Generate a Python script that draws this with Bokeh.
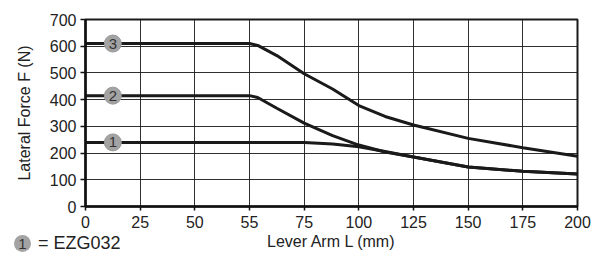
import numpy as np
from bokeh.plotting import figure
from bokeh.models import FixedTicker, ColumnDataSource, Div
from bokeh.layouts import column
from bokeh.core.properties import value
from bokeh.embed import file_html
from bokeh.resources import INLINE

# tick values of the (evenly spaced) lever-arm axis
x_ticks = [0, 25, 50, 55, 75, 100, 125, 150, 175, 200]
y_ticks = [0, 100, 200, 300, 400, 500, 600, 700]

# curve 3
x3 = [0, 55, 58, 65, 75, 88, 100, 112, 125, 150, 175, 200]
f3 = [610, 610, 603, 565, 497, 440, 378, 337, 305, 255, 220, 188]
# curve 2
x2 = [0, 55, 58, 65, 75, 88, 100, 112, 125, 150, 175, 200]
f2 = [415, 415, 408, 368, 312, 265, 230, 204, 185, 148, 132, 122]
# curve 1
x1 = [0, 75, 88, 100, 112, 125, 150, 175, 200]
f1 = [240, 240, 234, 224, 206, 185, 148, 132, 122]

curve_ids = ["1", "2", "3"]
curve_levels = [240, 415, 610]
marker_x = 12.5

legend_id = "1"
legend_text = "= EZG032"


def pos(x):
    return np.interp(x, x_ticks, np.arange(len(x_ticks)))


FONT = "Liberation Sans"

p = figure(width=607, height=253, output_backend="svg", toolbar_location=None,
           x_range=(0, len(x_ticks) - 1), y_range=(0, 700),
           min_border_left=85, min_border_right=30, min_border_top=19, min_border_bottom=47)
p.background_fill_color = "white"
p.border_fill_color = "white"
p.outline_line_color = "#1a1a1a"
p.outline_line_width = 2

p.xaxis.ticker = FixedTicker(ticks=list(range(len(x_ticks))))
p.xaxis.major_label_overrides = {i: str(v) for i, v in enumerate(x_ticks)}
p.yaxis.ticker = FixedTicker(ticks=y_ticks)
p.xgrid.ticker = FixedTicker(ticks=list(range(len(x_ticks))))
p.ygrid.ticker = FixedTicker(ticks=y_ticks)
for g in (p.xgrid, p.ygrid):
    g.grid_line_color = "#1a1a1a"
    g.grid_line_width = 1
    g.grid_line_alpha = 0.9

for ax in (p.xaxis, p.yaxis):
    ax.axis_line_color = "#111111"
    ax.axis_line_width = 2.5
    ax.major_tick_line_color = "#111111"
    ax.major_tick_line_width = 1.5
    ax.major_tick_out = 5
    ax.major_tick_in = 0
    ax.minor_tick_line_color = None
    ax.major_label_text_font = FONT
    ax.major_label_text_font_size = "16px"
    ax.major_label_text_color = "#222222"
    ax.axis_label_text_font = FONT
    ax.axis_label_text_font_size = "16px"
    ax.axis_label_text_font_style = "normal"
    ax.axis_label_text_color = "#222222"

p.xaxis.axis_label = "Lever Arm L (mm)"
p.yaxis.axis_label = "Lateral Force F (N)"
p.xaxis.major_tick_out = 4
p.xaxis.major_label_standoff = 5
p.xaxis.axis_label_standoff = 2
p.yaxis.major_label_standoff = 4
p.yaxis.axis_label_standoff = 14

for xs, fs in ((x1, f1), (x2, f2), (x3, f3)):
    p.line(pos(xs), fs, line_color="#1a1a1a", line_width=3)

src = ColumnDataSource(dict(x=[pos(marker_x)] * 3, y=curve_levels, t=curve_ids))
p.scatter("x", "y", source=src, size=17, fill_color="#a3a3a3", line_color="#999999")
p.text("x", "y", text="t", source=src, text_align="center", text_baseline="middle",
       text_font=value(FONT), text_font_size="15px", text_color="#333333")

legend_html = (
    f'<div style="display:flex;align-items:center;font-family:\'{FONT}\';'
    f'font-size:18px;color:#222222;line-height:18px;white-space:nowrap">'
    f'<span style="display:inline-block;width:17px;height:17px;border-radius:50%;'
    f'background:#a3a3a3;color:#333333;font-size:15px;line-height:17px;'
    f'text-align:center;margin-right:7px">{legend_id}</span>{legend_text}</div>'
)
legend = Div(text=legend_html, width=150, height=20, margin=(-19, 0, 0, 14))

layout = column(p, legend, spacing=0)
open("out.html", "w").write(file_html(layout, INLINE))
